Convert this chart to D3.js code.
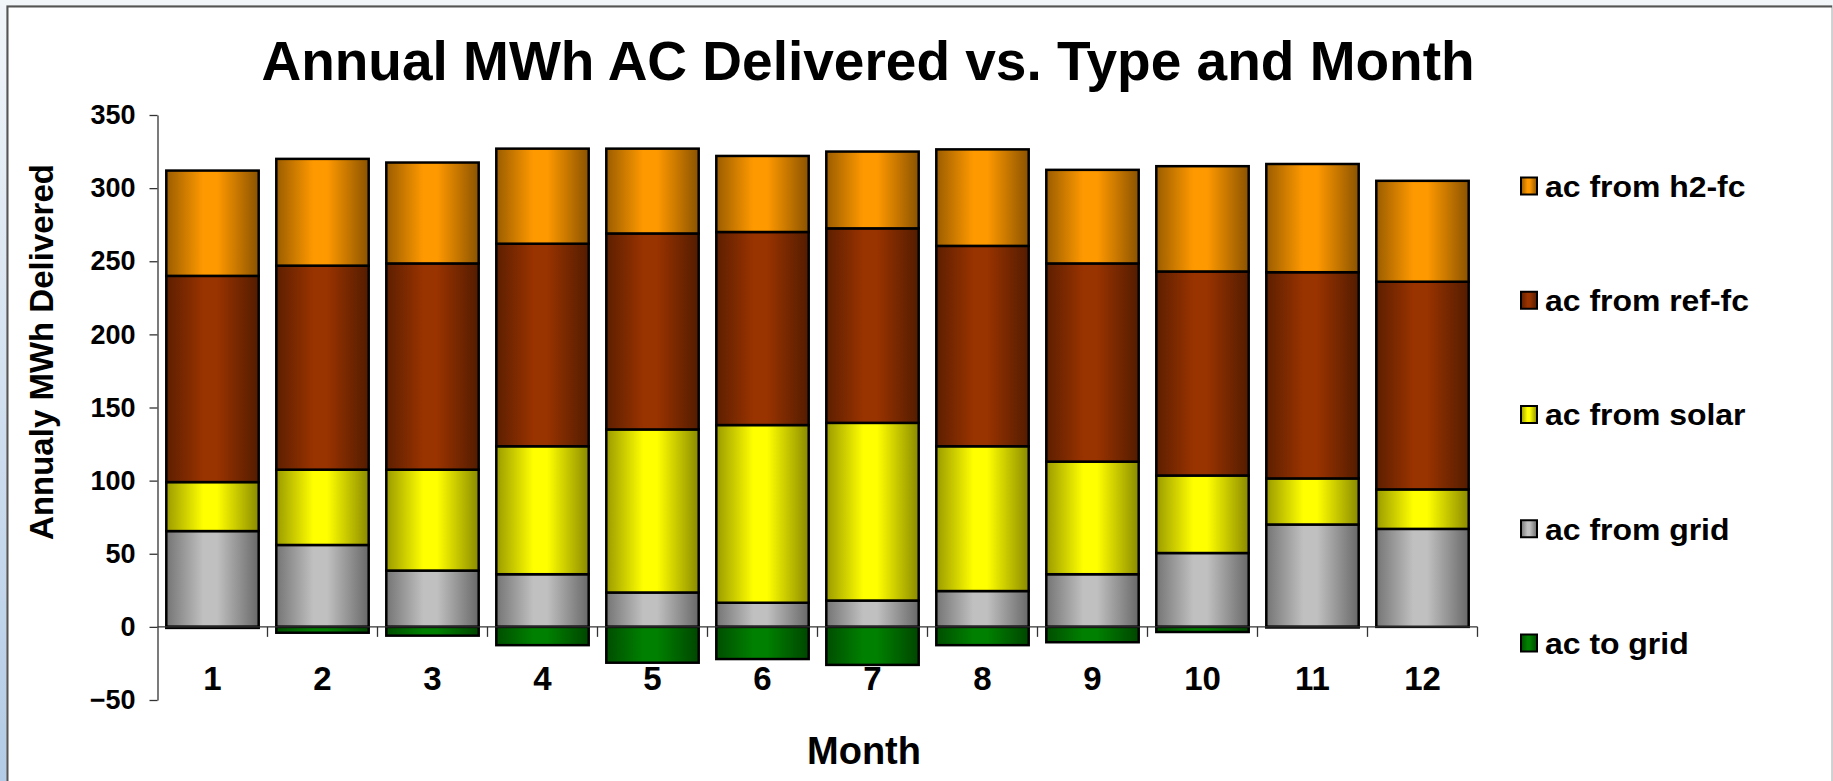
<!DOCTYPE html>
<html>
<head>
<meta charset="utf-8">
<script src="https://cdn.jsdelivr.net/npm/d3@7"></script>
<style>
  body { margin: 0; background: #f3f6f9; }
  svg { display: block; font-family: "Liberation Sans", Arial, sans-serif; font-weight: bold; }
</style>
</head>
<body>
<div id="chart"></div>
<script>
var width = 1833,
	height = 781;

// data (MWh per month, stacked segments)
var months = ["1", "2", "3", "4", "5", "6", "7", "8", "9", "10", "11", "12"];
var acFromGrid  = [65.5, 56, 38.5, 36, 23.5, 16.5, 18, 24.5, 36, 50.5, 70, 67];
var acFromSolar = [33.5, 51.5, 69, 87.5, 111.5, 121.5, 121.5, 99, 77, 53, 31.5, 27];
var acFromRefFc = [141, 139.5, 141, 138.5, 134, 132, 133, 137, 135.5, 139.5, 141, 142];
var acFromH2Fc  = [72, 73, 69, 65, 58, 52, 52.5, 66, 64, 72, 74, 69];
var acToGrid    = [-0.7, -4, -6, -12.5, -24.5, -22, -26, -12.5, -10.5, -3.5, -0.4, 0];

var seriesKeys = ["grid", "solar", "ref", "h2", "togrid"];
var seriesNames = {
	h2: "ac from h2-fc",
	ref: "ac from ref-fc",
	solar: "ac from solar",
	grid: "ac from grid",
	togrid: "ac to grid"
};
var legendOrder = ["h2", "ref", "solar", "grid", "togrid"];
var yTicks = [-50, 0, 50, 100, 150, 200, 250, 300, 350];

var colors = {
	h2: "#ff9900",
	ref: "#993300",
	solar: "#ffff00",
	grid: "#c0c0c0",
	togrid: "#008000"
};

var rows = months.map(function(m, i) {
	return {
		month: m,
		grid: acFromGrid[i],
		solar: acFromSolar[i],
		ref: acFromRefFc[i],
		h2: acFromH2Fc[i],
		togrid: acToGrid[i]
	};
});

var svg = d3.select('#chart')
	.append('svg')
	.attr('width', width)
	.attr('height', height);

// page background / frame
var defs = svg.append('defs');
var side = defs.append('linearGradient')
	.attr('id', 'side').attr('x1', 0).attr('x2', 0).attr('y1', 0).attr('y2', 1);
side.append('stop').attr('offset', '0%').attr('stop-color', '#f1f5f9');
side.append('stop').attr('offset', '100%').attr('stop-color', '#b3cbe6');

svg.append('rect').attr('width', width).attr('height', height).attr('fill', '#f3f6f9');
svg.append('rect').attr('x', 0).attr('y', 6).attr('width', 7).attr('height', height - 6).attr('fill', 'url(#side)');
svg.append('rect')
	.attr('x', 7).attr('y', 6)
	.attr('width', width - 8).attr('height', height)
	.attr('fill', 'white')
	.attr('stroke', '#c4c4c4').attr('stroke-width', 1.5);
svg.append('path')
	.attr('d', 'M7.5,' + height + 'V6.5H' + (width - 1))
	.attr('fill', 'none').attr('stroke', '#555').attr('stroke-width', 2);

// bar gradients: dark at edges, bright left of centre
Object.keys(colors).forEach(function(k) {
	var c = d3.color(colors[k]);
	var g = defs.append('linearGradient').attr('id', 'g-' + k)
		.attr('x1', 0).attr('x2', 1).attr('y1', 0).attr('y2', 0);
	g.append('stop').attr('offset', '0%').attr('stop-color', c.darker(1.4));
	g.append('stop').attr('offset', '40%').attr('stop-color', c);
	g.append('stop').attr('offset', '55%').attr('stop-color', c);
	g.append('stop').attr('offset', '100%').attr('stop-color', c.darker(1.7));
});

var x = d3.scaleBand()
	.domain(months)
	.range([157.5, 1477.5])
	.paddingInner(0.16)
	.paddingOuter(0.08);

var y = d3.scaleLinear()
	.domain([-50, 350])
	.range([700, 115]);

var stack = d3.stack()
	.keys(seriesKeys)
	.offset(d3.stackOffsetDiverging);
var stacked = stack(rows);

// bars
svg.append('g')
	.selectAll('g')
	.data(stacked)
	.join('g')
	.attr('fill', function(d) { return 'url(#g-' + d.key + ')'; })
	.selectAll('rect')
	.data(function(d) { return d; })
	.join('rect')
	.attr('x', function(d) { return x(d.data.month); })
	.attr('y', function(d) { return y(Math.max(d[0], d[1])); })
	.attr('width', x.bandwidth())
	.attr('height', function(d) { return Math.abs(y(d[0]) - y(d[1])); })
	.attr('stroke', 'black')
	.attr('stroke-width', 2.5);

// y axis
var yAxis = svg.append('g')
	.attr('transform', 'translate(157.5,0)')
	.call(d3.axisLeft(y).tickValues(yTicks).tickSize(8).tickPadding(14).tickSizeOuter(0));
yAxis.select('.domain').attr('stroke', '#333').attr('stroke-width', 1.3);
yAxis.selectAll('.tick line').attr('stroke', '#333').attr('stroke-width', 1.3);
yAxis.selectAll('.tick text')
	.attr('font-size', 27)
	.attr('font-family', '"Liberation Sans", Arial, sans-serif')
	.attr('font-weight', 'bold')
	.attr('fill', 'black');

// x axis at zero: labels centred in each band, ticks on band edges
var xAxis = svg.append('g')
	.attr('transform', 'translate(0,' + y(0) + ')')
	.call(d3.axisBottom(x).tickSize(0).tickPadding(0).tickSizeOuter(0));
xAxis.select('.domain').remove();
xAxis.selectAll('.tick text')
	.attr('y', 63)
	.attr('dy', 0)
	.attr('font-size', 33)
	.attr('font-family', '"Liberation Sans", Arial, sans-serif')
	.attr('font-weight', 'bold')
	.attr('fill', 'black');

var edges = months.map(function(m) { return x(m) - x.step() * x.paddingInner() / 2; });
edges.push(x.range()[1]);
xAxis.append('line')
	.attr('x1', x.range()[0]).attr('x2', x.range()[1])
	.attr('stroke', '#333').attr('stroke-width', 1.3);
xAxis.selectAll('.edge')
	.data(edges.slice(1))
	.join('line')
	.attr('class', 'edge')
	.attr('x1', function(d) { return d; })
	.attr('x2', function(d) { return d; })
	.attr('y1', 0).attr('y2', 10)
	.attr('stroke', '#333').attr('stroke-width', 1.3);

// titles
svg.append('text')
	.attr('x', 868).attr('y', 80)
	.attr('text-anchor', 'middle')
	.attr('font-size', 55)
	.text('Annual MWh AC Delivered vs. Type and Month');

svg.append('text')
	.attr('x', 864).attr('y', 764)
	.attr('text-anchor', 'middle')
	.attr('font-size', 38)
	.text('Month');

svg.append('text')
	.attr('transform', 'translate(53,352) rotate(-90)')
	.attr('text-anchor', 'middle')
	.attr('font-size', 33)
	.text('Annualy MWh Delivered');

// legend
var legendY = d3.scalePoint().domain(legendOrder).range([186, 643]);
var legend = svg.append('g')
	.selectAll('g')
	.data(legendOrder)
	.join('g')
	.attr('transform', function(d) { return 'translate(1521,' + legendY(d) + ')'; });
legend.append('rect')
	.attr('x', 0).attr('y', -8.5)
	.attr('width', 16).attr('height', 17)
	.attr('fill', function(d) { return 'url(#g-' + d + ')'; })
	.attr('stroke', 'black').attr('stroke-width', 2);
var legendText = legend.append('text')
	.attr('x', 24).attr('y', 0)
	.attr('dy', '0.36em')
	.attr('font-size', 30)
	.text(function(d) { return seriesNames[d]; });

// the legend labels are drawn wide in the original: stretch them so
// the longest one ends where the reference text ends
var longest = d3.max(legendText.nodes(), function(n) { return n.getComputedTextLength(); });
var stretch = (1749 - 1545) / longest;
legendText.each(function() {
	var len = this.getComputedTextLength();
	d3.select(this)
		.attr('textLength', len * stretch)
		.attr('lengthAdjust', 'spacingAndGlyphs');
});
</script>
</body>
</html>
